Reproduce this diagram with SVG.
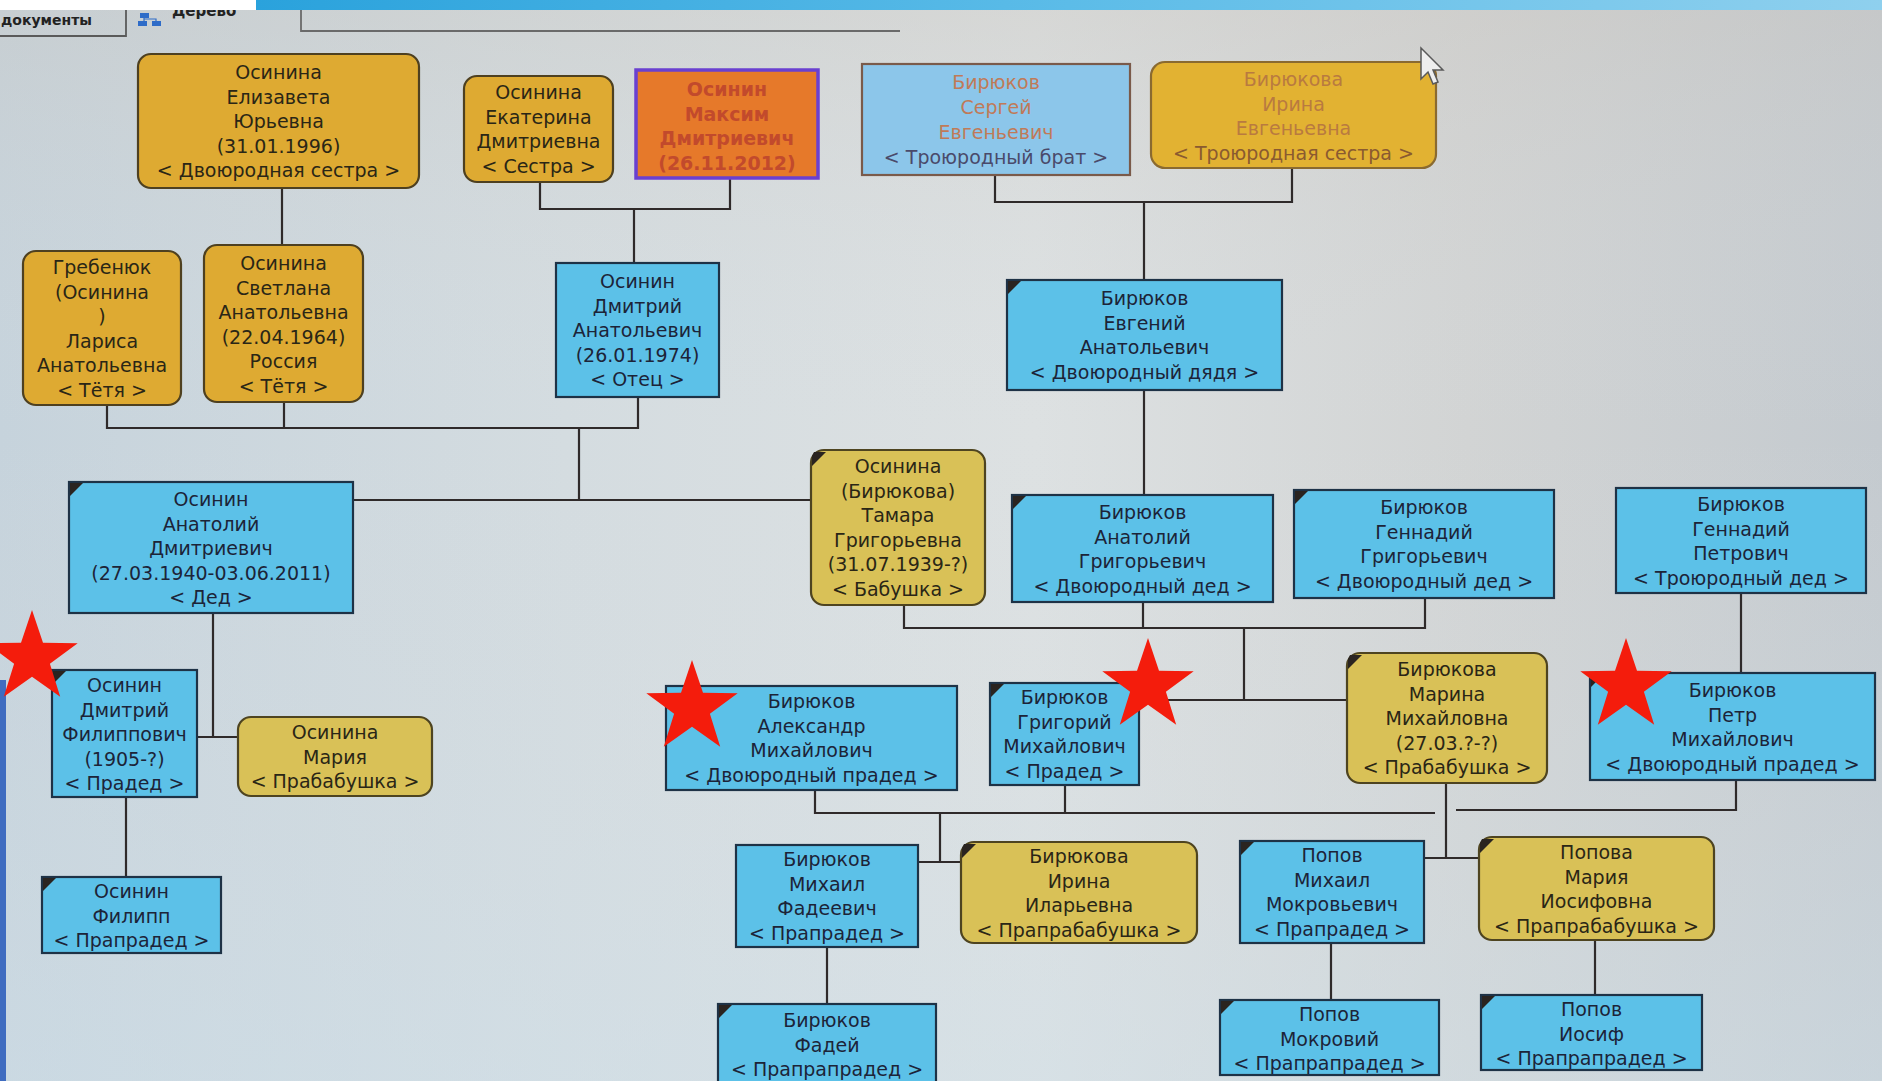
<svg xmlns="http://www.w3.org/2000/svg" width="1882" height="1081" viewBox="0 0 1882 1081">
<defs>
<linearGradient id="bg" x1="0" y1="0" x2="1" y2="0">
<stop offset="0" stop-color="#c6d3dc"/>
<stop offset="0.3" stop-color="#d4dce0"/>
<stop offset="0.55" stop-color="#dde1e2"/>
<stop offset="0.78" stop-color="#d2d4d4"/>
<stop offset="1" stop-color="#c4cacf"/>
</linearGradient>
<linearGradient id="bgv" x1="0" y1="0" x2="0" y2="1">
<stop offset="0" stop-color="#c9c4bd" stop-opacity="0.35"/>
<stop offset="0.4" stop-color="#d8dde0" stop-opacity="0"/>
<stop offset="1" stop-color="#cfe0ea" stop-opacity="0.45"/>
</linearGradient>
<linearGradient id="bar" x1="0" y1="0" x2="1" y2="0">
<stop offset="0" stop-color="#2aa2dc"/>
<stop offset="0.5" stop-color="#5cbce8"/>
<stop offset="1" stop-color="#8fd0ee"/>
</linearGradient>
<path id="star" d="M0,-48 L11,-15.2 L45.7,-14.8 L17.9,5.8 L28.2,38.8 L0,18.8 L-28.2,38.8 L-17.9,5.8 L-45.7,-14.8 L-11,-15.2 Z"/>
<style>
.bl{fill:#5cc1e8;stroke:#1e3246;stroke-width:2.2}
.gt{fill:#deaa32;stroke:#4e4020;stroke-width:2.2}
.gl{fill:#d9c157;stroke:#4e4420;stroke-width:2.2}
.mk{fill:#2a2420}
text{font-family:"DejaVu Sans","Liberation Sans",sans-serif;font-size:19px;text-anchor:middle;fill:#1c2438}
.tg{fill:#2a2616}
.conn{fill:none;stroke:#2f2a2a;stroke-width:2.2}
.star{fill:#f41c0c}
</style>
</defs>
<rect x="0" y="0" width="1882" height="1081" fill="url(#bg)"/>
<rect x="0" y="0" width="1882" height="1081" fill="url(#bgv)"/>
<rect x="0" y="680" width="6" height="401" fill="#3f6cc0"/>
<g id="tabs">
<text x="1" y="25" style="font-size:14px;font-weight:bold;text-anchor:start;fill:#222">документы</text>
<path d="M126,10 V36 H0" fill="none" stroke="#5a5a5a" stroke-width="1.8"/>
<rect x="140" y="13" width="9" height="5" fill="#2e6cc8"/>
<rect x="138" y="21" width="9" height="5" fill="#2e6cc8"/>
<rect x="152" y="21" width="9" height="5" fill="#2e6cc8"/>
<path d="M144,18 V21 M144,19 H156 V21" fill="none" stroke="#2e6cc8" stroke-width="1.2"/>
<text x="172" y="16" style="font-size:15px;font-weight:bold;text-anchor:start;fill:#222">Дерево</text>
<path d="M301,10 V31 H900" fill="none" stroke="#6a6a6a" stroke-width="1.8"/>
</g>
<rect x="0" y="0" width="256" height="10" fill="#ffffff"/>
<rect x="256" y="0" width="1626" height="10" fill="url(#bar)"/>
<g id="connectors" class="conn">
<path d="M282,188 V245"/>
<path d="M540,182 V209 H730 V176 M634,209 V263"/>
<path d="M995,175 V202 H1292 V168 M1144,202 V280"/>
<path d="M107,405 V428 H638 V397 M284,402 V428 M579,428 V500"/>
<path d="M353,500 H811"/>
<path d="M1144,390 V495"/>
<path d="M904,605 V628 H1425 V598 M1143,602 V628 M1244,628 V700"/>
<path d="M1139,700 H1347"/>
<path d="M213,613 V737 M197,737 H238"/>
<path d="M1741,593 V673"/>
<path d="M126,797 V877"/>
<path d="M815,790 V813 H1435 M1065,785 V813 M940,813 V862 M918,862 H961"/>
<path d="M1446,783 V858 M1424,858 H1479 M1456,810 H1736 V780"/>
<path d="M827,947 V1004"/>
<path d="M1331,943 V1000"/>
<path d="M1595,940 V995"/>
</g>
<g id="n-elizaveta">
<rect class="gt" x="138" y="54" width="281" height="134" rx="13"/>
<text class="tg"><tspan x="278.5" y="79">Осинина</tspan><tspan x="278.5" y="103.5">Елизавета</tspan><tspan x="278.5" y="128">Юрьевна</tspan><tspan x="278.5" y="152.5">(31.01.1996)</tspan><tspan x="278.5" y="177">&lt; Двоюродная сестра &gt;</tspan></text>
</g>
<g id="n-ekaterina">
<rect class="gt" x="464" y="76" width="149" height="106" rx="13"/>
<text class="tg"><tspan x="538.5" y="99">Осинина</tspan><tspan x="538.5" y="123.5">Екатерина</tspan><tspan x="538.5" y="148">Дмитриевна</tspan><tspan x="538.5" y="172.5">&lt; Сестра &gt;</tspan></text>
</g>
<g id="n-maksim">
<rect x="636" y="70" width="182" height="108" fill="#e6792a" stroke="#6a40d0" stroke-width="3.5"/>
<text style="fill:#c24a2c;font-weight:bold"><tspan x="727" y="96">Осинин</tspan><tspan x="727" y="120.5">Максим</tspan><tspan x="727" y="145">Дмитриевич</tspan><tspan x="727" y="169.5">(26.11.2012)</tspan></text>
</g>
<g id="n-sergey">
<rect x="862" y="64" width="268" height="111" fill="#8cc6ea" stroke="#7a5a4a" stroke-width="2.2"/>
<text style="fill:#c07a58"><tspan x="996" y="89">Бирюков</tspan><tspan x="996" y="114">Сергей</tspan><tspan x="996" y="139">Евгеньевич</tspan><tspan x="996" y="164" style="fill:#4a4a6a">&lt; Троюродный брат &gt;</tspan></text>
</g>
<g id="n-irina-e">
<rect x="1151" y="62" width="285" height="106" rx="14" fill="#e2b232" stroke="#8a6a30" stroke-width="2.2"/>
<text style="fill:#b97a40"><tspan x="1293.5" y="86">Бирюкова</tspan><tspan x="1293.5" y="110.5">Ирина</tspan><tspan x="1293.5" y="135">Евгеньевна</tspan><tspan x="1293.5" y="159.5" style="fill:#8a5a30">&lt; Троюродная сестра &gt;</tspan></text>
</g>
<g id="n-larisa">
<rect class="gt" x="23" y="251" width="158" height="154" rx="13"/>
<text class="tg"><tspan x="102" y="274">Гребенюк</tspan><tspan x="102" y="298.5">(Осинина</tspan><tspan x="102" y="323">)</tspan><tspan x="102" y="347.5">Лариса</tspan><tspan x="102" y="372">Анатольевна</tspan><tspan x="102" y="396.5">&lt; Тётя &gt;</tspan></text>
</g>
<g id="n-svetlana">
<rect class="gt" x="204" y="245" width="159" height="157" rx="13"/>
<text class="tg"><tspan x="283.5" y="270">Осинина</tspan><tspan x="283.5" y="294.5">Светлана</tspan><tspan x="283.5" y="319">Анатольевна</tspan><tspan x="283.5" y="343.5">(22.04.1964)</tspan><tspan x="283.5" y="368">Россия</tspan><tspan x="283.5" y="392.5">&lt; Тётя &gt;</tspan></text>
</g>
<g id="n-dmitriy-a">
<rect class="bl" x="556" y="263" width="163" height="134"/>
<text><tspan x="637.5" y="288">Осинин</tspan><tspan x="637.5" y="312.5">Дмитрий</tspan><tspan x="637.5" y="337">Анатольевич</tspan><tspan x="637.5" y="361.5">(26.01.1974)</tspan><tspan x="637.5" y="386">&lt; Отец &gt;</tspan></text>
</g>
<g id="n-evgeniy">
<rect class="bl" x="1007" y="280" width="275" height="110"/>
<path class="mk" d="M1008,281 h13 l-13,13 z"/>
<text><tspan x="1144.5" y="305">Бирюков</tspan><tspan x="1144.5" y="329.5">Евгений</tspan><tspan x="1144.5" y="354">Анатольевич</tspan><tspan x="1144.5" y="378.5">&lt; Двоюродный дядя &gt;</tspan></text>
</g>
<g id="n-anatoliy-o">
<rect class="bl" x="69" y="482" width="284" height="131"/>
<path class="mk" d="M70,483 h13 l-13,13 z"/>
<text><tspan x="211" y="506">Осинин</tspan><tspan x="211" y="530.5">Анатолий</tspan><tspan x="211" y="555">Дмитриевич</tspan><tspan x="211" y="579.5">(27.03.1940-03.06.2011)</tspan><tspan x="211" y="604">&lt; Дед &gt;</tspan></text>
</g>
<g id="n-tamara">
<rect class="gl" x="811" y="450" width="174" height="155" rx="13"/>
<path class="mk" d="M814,452 h12 l-14,14 v-10 z"/>
<text class="tg"><tspan x="898" y="473">Осинина</tspan><tspan x="898" y="497.5">(Бирюкова)</tspan><tspan x="898" y="522">Тамара</tspan><tspan x="898" y="546.5">Григорьевна</tspan><tspan x="898" y="571">(31.07.1939-?)</tspan><tspan x="898" y="595.5">&lt; Бабушка &gt;</tspan></text>
</g>
<g id="n-anatoliy-b">
<rect class="bl" x="1012" y="495" width="261" height="107"/>
<path class="mk" d="M1013,496 h13 l-13,13 z"/>
<text><tspan x="1142.5" y="519">Бирюков</tspan><tspan x="1142.5" y="543.5">Анатолий</tspan><tspan x="1142.5" y="568">Григорьевич</tspan><tspan x="1142.5" y="592.5">&lt; Двоюродный дед &gt;</tspan></text>
</g>
<g id="n-gennadiy-g">
<rect class="bl" x="1294" y="490" width="260" height="108"/>
<path class="mk" d="M1295,491 h13 l-13,13 z"/>
<text><tspan x="1424" y="514">Бирюков</tspan><tspan x="1424" y="538.5">Геннадий</tspan><tspan x="1424" y="563">Григорьевич</tspan><tspan x="1424" y="587.5">&lt; Двоюродный дед &gt;</tspan></text>
</g>
<g id="n-gennadiy-p">
<rect class="bl" x="1616" y="488" width="250" height="105"/>
<text><tspan x="1741" y="511">Бирюков</tspan><tspan x="1741" y="535.5">Геннадий</tspan><tspan x="1741" y="560">Петрович</tspan><tspan x="1741" y="584.5">&lt; Троюродный дед &gt;</tspan></text>
</g>
<g id="n-dmitriy-f">
<rect class="bl" x="52" y="670" width="145" height="127"/>
<path class="mk" d="M53,671 h13 l-13,13 z"/>
<text><tspan x="124.5" y="692">Осинин</tspan><tspan x="124.5" y="716.5">Дмитрий</tspan><tspan x="124.5" y="741">Филиппович</tspan><tspan x="124.5" y="765.5">(1905-?)</tspan><tspan x="124.5" y="790">&lt; Прадед &gt;</tspan></text>
</g>
<g id="n-mariya-o">
<rect class="gl" x="238" y="717" width="194" height="79" rx="13"/>
<text class="tg"><tspan x="335" y="739">Осинина</tspan><tspan x="335" y="763.5">Мария</tspan><tspan x="335" y="788">&lt; Прабабушка &gt;</tspan></text>
</g>
<g id="n-aleksandr">
<rect class="bl" x="666" y="686" width="291" height="104"/>
<text><tspan x="811.5" y="708">Бирюков</tspan><tspan x="811.5" y="732.5">Александр</tspan><tspan x="811.5" y="757">Михайлович</tspan><tspan x="811.5" y="781.5">&lt; Двоюродный прадед &gt;</tspan></text>
</g>
<g id="n-grigoriy">
<rect class="bl" x="990" y="683" width="149" height="102"/>
<path class="mk" d="M991,684 h13 l-13,13 z"/>
<text><tspan x="1064.5" y="704">Бирюков</tspan><tspan x="1064.5" y="728.5">Григорий</tspan><tspan x="1064.5" y="753">Михайлович</tspan><tspan x="1064.5" y="777.5">&lt; Прадед &gt;</tspan></text>
</g>
<g id="n-marina">
<rect class="gl" x="1347" y="653" width="200" height="130" rx="13"/>
<path class="mk" d="M1350,655 h12 l-14,14 v-10 z"/>
<text class="tg"><tspan x="1447" y="676">Бирюкова</tspan><tspan x="1447" y="700.5">Марина</tspan><tspan x="1447" y="725">Михайловна</tspan><tspan x="1447" y="749.5">(27.03.?-?)</tspan><tspan x="1447" y="774">&lt; Прабабушка &gt;</tspan></text>
</g>
<g id="n-petr">
<rect class="bl" x="1590" y="673" width="285" height="107"/>
<path class="mk" d="M1591,674 h13 l-13,13 z"/>
<text><tspan x="1732.5" y="697">Бирюков</tspan><tspan x="1732.5" y="721.5">Петр</tspan><tspan x="1732.5" y="746">Михайлович</tspan><tspan x="1732.5" y="770.5">&lt; Двоюродный прадед &gt;</tspan></text>
</g>
<g id="n-mikhail-f">
<rect class="bl" x="736" y="845" width="182" height="102"/>
<text><tspan x="827" y="866">Бирюков</tspan><tspan x="827" y="890.5">Михаил</tspan><tspan x="827" y="915">Фадеевич</tspan><tspan x="827" y="939.5">&lt; Прапрадед &gt;</tspan></text>
</g>
<g id="n-irina-i">
<rect class="gl" x="961" y="842" width="236" height="101" rx="13"/>
<path class="mk" d="M964,844 h12 l-14,14 v-10 z"/>
<text class="tg"><tspan x="1079" y="863">Бирюкова</tspan><tspan x="1079" y="887.5">Ирина</tspan><tspan x="1079" y="912">Иларьевна</tspan><tspan x="1079" y="936.5">&lt; Прапрабабушка &gt;</tspan></text>
</g>
<g id="n-mikhail-p">
<rect class="bl" x="1240" y="841" width="184" height="102"/>
<path class="mk" d="M1241,842 h13 l-13,13 z"/>
<text><tspan x="1332" y="862">Попов</tspan><tspan x="1332" y="886.5">Михаил</tspan><tspan x="1332" y="911">Мокровьевич</tspan><tspan x="1332" y="935.5">&lt; Прапрадед &gt;</tspan></text>
</g>
<g id="n-mariya-p">
<rect class="gl" x="1479" y="837" width="235" height="103" rx="13"/>
<path class="mk" d="M1482,839 h12 l-14,14 v-10 z"/>
<text class="tg"><tspan x="1596.5" y="859">Попова</tspan><tspan x="1596.5" y="883.5">Мария</tspan><tspan x="1596.5" y="908">Иосифовна</tspan><tspan x="1596.5" y="932.5">&lt; Прапрабабушка &gt;</tspan></text>
</g>
<g id="n-filipp">
<rect class="bl" x="42" y="877" width="179" height="76"/>
<path class="mk" d="M43,878 h13 l-13,13 z"/>
<text><tspan x="131.5" y="898">Осинин</tspan><tspan x="131.5" y="922.5">Филипп</tspan><tspan x="131.5" y="947">&lt; Прапрадед &gt;</tspan></text>
</g>
<g id="n-fadey">
<rect class="bl" x="718" y="1004" width="218" height="84"/>
<path class="mk" d="M719,1005 h13 l-13,13 z"/>
<text><tspan x="827" y="1027">Бирюков</tspan><tspan x="827" y="1051.5">Фадей</tspan><tspan x="827" y="1076">&lt; Прапрапрадед &gt;</tspan></text>
</g>
<g id="n-mokroviy">
<rect class="bl" x="1220" y="1000" width="219" height="75"/>
<path class="mk" d="M1221,1001 h13 l-13,13 z"/>
<text><tspan x="1329.5" y="1021">Попов</tspan><tspan x="1329.5" y="1045.5">Мокровий</tspan><tspan x="1329.5" y="1070">&lt; Прапрапрадед &gt;</tspan></text>
</g>
<g id="n-iosif">
<rect class="bl" x="1481" y="995" width="221" height="75"/>
<path class="mk" d="M1482,996 h13 l-13,13 z"/>
<text><tspan x="1591.5" y="1016">Попов</tspan><tspan x="1591.5" y="1040.5">Иосиф</tspan><tspan x="1591.5" y="1065">&lt; Прапрапрадед &gt;</tspan></text>
</g>
<g id="stars">
<use href="#star" class="star" x="32" y="658"/>
<use href="#star" class="star" x="692" y="708"/>
<use href="#star" class="star" x="1148" y="686"/>
<use href="#star" class="star" x="1626" y="686"/>
</g>
<path id="cursor" d="M1421,48 V79 L1428,72 L1433,84 L1438,82 L1433,70 L1443,70 Z" fill="#eeeeee" stroke="#5a5a5a" stroke-width="1.5"/>
</svg>
